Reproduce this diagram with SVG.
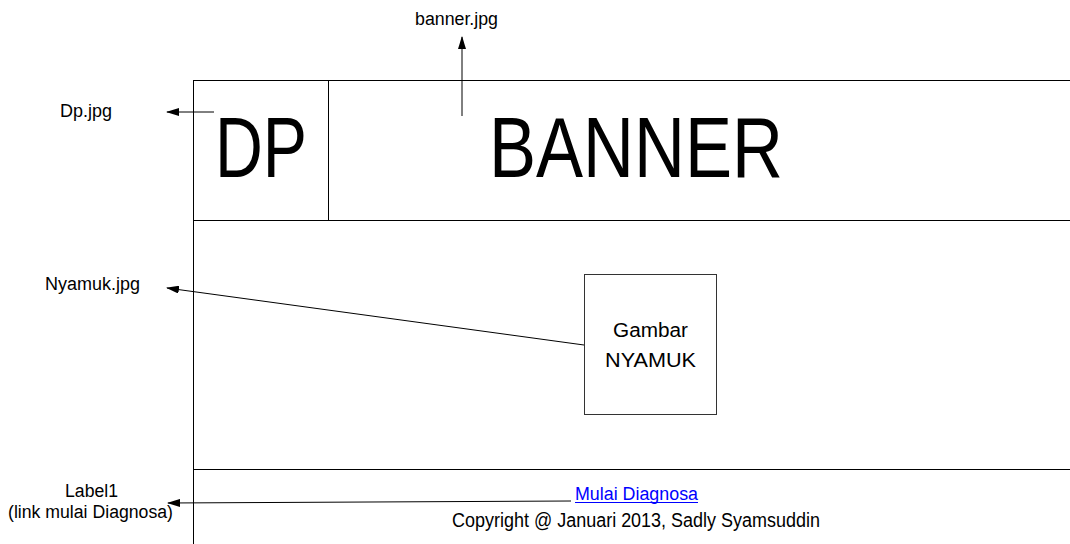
<svg xmlns="http://www.w3.org/2000/svg" width="1070" height="544" viewBox="0 0 1070 544">
<style>
.ln{stroke:#000;stroke-width:1;fill:none}
.bx{stroke:#333;stroke-width:1;fill:#fff}
.t{font-family:"Liberation Sans",Arial,sans-serif;font-size:18px;fill:#000;text-anchor:start}
.m{font-size:20px}
.big{font-family:"Liberation Sans",Arial,sans-serif;font-size:86px;fill:#000;text-anchor:start}
.lk{fill:#00f}
</style>
<defs>
<marker id="ah" markerWidth="13" markerHeight="8" refX="12" refY="4" orient="auto" markerUnits="userSpaceOnUse">
<path d="M0,0 L13,4 L0,8 Z" fill="#000"/>
</marker>
</defs>
<rect width="1070" height="544" fill="#fff"/>
<g id="frame">
<line class="ln" x1="193.5" y1="80" x2="193.5" y2="544" stroke="#444"/>
<line class="ln" x1="193" y1="80.5" x2="1070" y2="80.5"/>
<line class="ln" x1="193" y1="220.5" x2="1070" y2="220.5"/>
<line class="ln" x1="193" y1="469.5" x2="1070" y2="469.5"/>
</g>
<g id="dp">
<line class="ln" x1="328.5" y1="80" x2="328.5" y2="220" stroke="#444"/>
<text class="big" x="215" y="177" textLength="92" lengthAdjust="spacingAndGlyphs">DP</text>
</g>
<g id="banner">
<text class="big" x="489" y="177" textLength="294" lengthAdjust="spacingAndGlyphs">BANNER</text>
</g>
<g id="gambar">
<rect class="bx" x="584.5" y="274.5" width="132" height="140"/>
<text class="t m" x="613" y="337" textLength="75" lengthAdjust="spacingAndGlyphs">Gambar</text>
<text class="t m" x="605" y="367" textLength="91" lengthAdjust="spacingAndGlyphs">NYAMUK</text>
</g>
<g id="footer">
<text class="t lk" x="575" y="500" textLength="123" lengthAdjust="spacingAndGlyphs">Mulai Diagnosa</text>
<line x1="575" y1="502.5" x2="698" y2="502.5" stroke="#00f" stroke-width="1"/>
<text class="t m" x="452" y="527" textLength="368" lengthAdjust="spacingAndGlyphs">Copyright @ Januari 2013,  Sadly Syamsuddin</text>
</g>
<g id="labels">
<text class="t" x="415" y="25" textLength="83" lengthAdjust="spacingAndGlyphs">banner.jpg</text>
<text class="t" x="60" y="117" textLength="52" lengthAdjust="spacingAndGlyphs">Dp.jpg</text>
<text class="t" x="45" y="290" textLength="95" lengthAdjust="spacingAndGlyphs">Nyamuk.jpg</text>
<text class="t" x="65" y="497" textLength="53" lengthAdjust="spacingAndGlyphs">Label1</text>
<text class="t" x="8" y="518" textLength="165" lengthAdjust="spacingAndGlyphs">(link mulai Diagnosa)</text>
</g>
<g id="connectors">
<line class="ln" x1="214" y1="112" x2="167" y2="112" marker-end="url(#ah)"/>
<line class="ln" x1="462" y1="116" x2="462" y2="37" marker-end="url(#ah)"/>
<line class="ln" x1="584" y1="345" x2="167" y2="288" marker-end="url(#ah)"/>
<line class="ln" x1="571" y1="501" x2="168" y2="503" marker-end="url(#ah)"/>
</g>
</svg>
